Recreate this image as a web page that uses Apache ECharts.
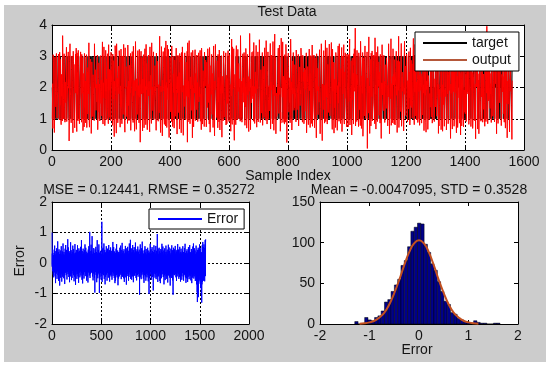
<!DOCTYPE html>
<html><head><meta charset="utf-8">
<script src="https://cdn.jsdelivr.net/npm/echarts@6/dist/echarts.min.js"></script>
<style>
html,body{margin:0;padding:0;background:#fff}
#bg{position:absolute;left:4px;top:5px;width:542px;height:357px;background:#cccccc}
#c{position:absolute;left:0;top:0;width:550px;height:367px}
</style>
</head><body><div id="bg"></div><div id="c"></div>
<script>
// ---- DATA ----
// target class of each test sample (1, 2 or 3), 40 samples per row
const targetRows = [
"2213322113221332112233211322311222133221",
"3311222331122332211332211233211332211223",
"2311322133211223321132231122133221133122",
"1322311223321132213221133223122133112232",
"2113322213311223321123221133211322312213",
"3221132231122332113322113223311223211322",
"1332211322311221332211322311223321132211",
"2233112213322113221133223112232113322132",
"3112233221132231132221331122322113322311",
"2213321122331122332113221322113322311223",
"3122133211223113221332112233122133221132",
"2331122133221132231312233211223312213321",
"1223312213322113312223112233211322113322",
"3211322331221331122233122133211223322113",
"2132213311223311222133211223312112233211",
"3322112231132233112221133211332231122133",
"1221133222331122332113322112233112213322",
"2313221132231122331122332113221331122312",
"3221132212331122213312233211322113322311",
"2112233213322111332223113221322133211223",
"3312221133221132233121322113321223311223",
"1223322113322113122233112232123322113321",
"2311223321132211332231221332112233112213",
"3221133122231132213321122332113223112213",
"1332211223221332211333112223311223322113",
"2211322331122321132221333223112213322113",
"3122133211223113221332112233122133221132",
"1322311223321132213221133223122133112232",
"2213322113221332112233211322311222133221",
"3112233221132231132221331122322113322311",
"2331122133221132231312233211223312213321",
"1332211322311221332211322311223321132211",
"2132213311223311222133211223312112233211",
"3221132231122332113322113223311223211322",
"2311223321132211332231221332112233112213",
"1221133222331122332113322112233112213322",
"3312221133221132233121322113321223311223",
"2233112213322113221133223112232113322132",
"3211322331221331122233122133211223322113"
];
// error (target - output) of each sample, in hundredths, 40 samples per row
const errorHundredths = [
100,-12,31,-5,18,-27,8,44,-15,3,-21,12,-38,6,-9,26,-2,-47,14,-18,33,-7,22,-31,4,-13,57,-24,10,-3,19,-42,28,-11,7,-66,16,-20,39,1,
-8,23,-35,11,-17,48,-4,15,-29,9,-52,21,-6,34,-14,2,-25,71,-10,17,-40,5,27,-19,13,-58,36,-1,-23,9,45,-16,20,-33,6,-12,29,-74,18,-7,
14,-26,3,41,-11,22,-48,7,-19,30,-3,-37,16,55,-22,8,-14,25,-61,11,-6,19,-30,4,38,-17,12,-45,26,-9,2,64,-21,13,-34,17,-5,28,-50,10,
-15,36,-8,20,-43,5,27,-12,-69,16,9,-24,47,-3,18,-32,11,-7,59,-20,23,-13,6,-40,31,-18,2,43,-27,15,-10,-54,24,-4,35,-16,8,-29,21,78,
-11,7,-36,19,-2,51,-24,13,-9,28,-46,4,17,-15,33,-30,10,-63,22,-6,39,-19,12,-28,3,-44,26,-8,68,-14,16,-37,9,-21,42,-4,24,-56,6,-13,
30,-17,5,-49,21,-7,36,-26,14,-3,57,-20,11,-34,-8,25,-12,46,-40,18,-2,-29,13,-60,32,-10,20,-18,7,-45,27,-5,62,-23,9,-31,16,-1,-72,34,
-14,19,-38,8,24,-11,43,-27,4,-16,33,-7,-52,22,-3,15,-36,10,58,-21,6,-13,29,-44,17,-9,37,-25,1,-65,20,-15,48,-6,12,-32,26,-19,-4,40,
-23,11,-47,16,-1,34,-28,9,-14,53,-18,25,-6,-41,13,-22,31,-10,75,-33,8,-16,21,-55,4,-12,39,-27,18,-5,-67,29,-9,14,-24,47,-3,19,-38,7,
23,-13,35,-8,-51,17,-4,27,-20,10,42,-30,6,-17,61,-11,15,-43,24,-2,9,-26,50,-14,3,-35,18,-7,30,-21,13,-58,37,-10,21,-1,-46,16,-28,8,
-9,32,-19,5,-64,26,-12,44,-4,14,-31,20,-8,55,-24,11,-15,36,-41,2,18,-27,102,-6,23,-49,12,-16,28,-3,-36,15,-11,39,-22,7,60,-13,-30,19,
4,-22,41,-15,9,-33,88,-10,25,-5,-44,16,-1,30,-18,12,-57,21,-8,37,-26,6,-13,49,-35,17,-3,27,-20,10,-48,33,-9,19,-97,8,-24,45,-12,2,
15,-30,7,-18,53,-6,22,-39,12,-11,36,-25,4,-63,19,-2,28,-16,75,-43,10,-20,31,-8,-50,24,-14,16,-34,5,43,-12,-27,20,-7,61,-19,11,-38,26,
-98,18,-8,34,-21,6,-45,13,-29,22,-4,40,-16,9,-33,27,-11,-54,15,-2,30,-19,8,-41,21,135,-26,11,-62,17,-7,46,-23,3,-36,25,-13,50,-5,-30,
12,-40,26,-3,19,-15,64,-24,8,-52,31,-10,17,-28,4,43,-19,11,-70,22,-6,35,-14,9,-45,28,-1,-33,16,-9,55,-21,7,-38,24,-12,39,-4,-58,14,
-17,29,-6,47,-32,10,-20,3,36,-13,21,-48,15,-2,-26,59,-9,18,-36,7,25,-16,42,-5,-61,13,-23,30,-11,20,-39,4,16,-29,51,-7,-18,33,-44,9,
22,-5,-37,14,-19,40,-10,27,-55,8,18,-30,6,-14,45,-24,11,69,-3,-42,26,-12,19,-7,-34,52,-17,4,31,-22,13,-49,23,-1,-15,38,-28,8,-66,17,
-4,26,-20,11,-58,33,-8,16,-31,47,-12,5,-40,21,-2,62,-25,9,-17,30,-47,14,-6,24,-35,7,41,-19,12,-73,20,-10,35,-27,3,-51,18,-13,28,-5,
36,-16,8,-44,23,-3,15,-28,50,-11,19,-35,-9,27,-22,4,57,-14,10,-39,29,-7,-53,17,-24,12,-1,43,-30,6,-18,66,-12,21,-45,9,-26,32,-4,14,
-27,11,39,-19,5,-50,24,-9,17,-34,45,-14,2,-62,28,-6,20,-25,13,-41,33,-18,8,-3,56,-29,16,-11,-47,22,-8,37,-21,10,-71,26,-15,4,48,-32,
18,-7,-43,30,-13,6,-26,53,-17,9,-36,22,-2,40,-21,14,-58,25,-10,3,31,-46,12,-19,64,-8,-30,17,-5,44,-24,11,-38,20,-12,76,-16,7,-52,27,
-10,33,-22,5,48,-31,13,-7,-55,24,8,-18,36,-4,15,-44,21,-12,59,-27,3,-35,27,-9,17,-63,10,-20,42,-1,-29,18,-14,52,-6,23,-40,12,-19,34,
-42,9,21,-26,4,-15,67,-33,11,-3,30,-20,-49,16,-8,38,-24,13,-57,6,25,-11,45,-30,2,-16,33,-39,19,-7,54,-23,10,-45,28,-13,-2,37,-28,15,
7,-36,24,-10,44,-19,12,-4,-104,29,-15,5,-32,18,-47,61,-8,20,-25,11,38,-13,-3,27,-53,16,-21,9,48,-34,14,-6,-40,25,-17,70,-11,3,-29,19,
-18,40,-7,14,-36,22,-51,9,-13,31,3,-27,17,-65,26,-2,43,-20,10,-39,18,-9,-31,55,-15,7,-44,24,-5,34,-23,12,-58,19,-10,46,-26,6,-35,21,
28,-12,4,-47,19,-25,37,-6,13,-33,50,-17,8,-40,24,-3,-60,15,-22,32,10,-28,41,-14,-101,21,-9,29,-37,6,17,-50,35,-11,2,-24,63,-18,26,-7,
-21,11,-38,26,-5,45,-15,8,-55,20,-2,33,-27,14,-10,52,-32,6,-18,39,-46,17,-8,29,-24,12,-3,-90,23,-13,36,-42,9,-19,58,-6,15,-35,25,-11,
16,-29,43,-7,22,-48,11,-16,31,-3,-37,19,-12,56,-24,5,-53,27,-9,14,-33,40,-1,-20,12,-45,25,-14,95,-30,8,-18,34,-62,18,-5,47,-26,10,-39,
23,-10,-44,29,-17,7,-35,50,-22,13,-4,38,-28,16,-59,21,-8,33,-13,-66,26,-19,9,-31,46,-3,-25,18,-11,41,-50,14,-6,30,-21,63,-15,5,-37,24,
-14,35,-26,8,-3,54,-20,12,-46,27,-9,19,-33,5,41,-16,-70,23,-7,30,-40,15,-2,48,-27,10,-18,36,-56,21,6,-12,28,-35,13,-24,57,-8,-43,17,
11,-30,20,-6,-52,37,-16,25,-3,44,-38,14,-21,9,-64,28,-12,17,-29,3,60,-23,15,-41,24,-8,-34,12,51,-19,-5,39,-26,7,-48,22,-14,31,-10,-74,
26,-7,16,-43,10,-22,47,-31,5,-15,33,-49,20,-4,-27,58,-11,13,-36,24,-2,42,-20,8,-57,30,-13,19,-104,15,-38,27,-9,50,-18,4,-30,36,-25,12,
-6,45,-28,13,-40,21,-2,32,-17,9,56,-24,14,-35,6,-12,28,-47,18,-9,38,-30,3,-59,25,-16,11,43,-21,7,-44,17,-5,34,-27,62,-13,20,-33,2,
19,-37,8,-21,44,-6,27,-52,14,-11,31,-3,-46,22,-16,9,53,-28,12,-38,4,-19,36,-8,-61,26,-14,18,-31,47,-10,23,-42,6,30,-22,13,-55,35,-4,
-25,15,-9,40,-33,11,-18,55,-5,24,-44,7,29,-20,12,-58,36,-13,3,-29,21,-40,16,-7,49,-23,9,-36,27,-15,63,-11,19,-47,5,-2,33,-28,14,-65,
12,-31,24,-8,-50,18,-14,39,-22,6,45,-17,10,-36,28,-4,-62,20,-11,33,-26,14,-45,7,52,-19,3,-30,23,-9,37,-53,16,-13,26,-40,8,59,-21,11,
-16,29,-43,9,-6,35,-25,15,-57,21,4,-37,18,-10,46,-29,12,-3,-66,25,-14,40,-22,8,-48,31,-7,17,-34,54,-19,6,-41,23,-12,64,-27,10,-2,-51,
20,-9,33,-44,14,-24,48,-5,-36,26,-12,41,-19,8,-59,30,-15,22,-40,11,3,-30,57,-16,12,-48,24,-70,35,-22,9,-55,18,-96,29,-128,16,-70,43,-11,
-26,38,-14,50,-33,-112,21,-45,12,-18,44,-60,27,-8,-41,19,-23,61,-37,10,-55,32,-12,-68,25,-30,48,-15,-82,29,-47,15,-21,-64,36,-105,24,-51,17,-130,
33,-70,22,-41,58,-28,14,-62,40,-16,69,-35,11,-50,45,-24,30,-58,52,-9,27,-44,61,-20,18,-47,49,-13,36,-60,42,-25,12,-38,75,-30,20,-43,66,78
];
// error histogram: bin centres and counts
const histCenters = [-1.264,-1.198,-1.131,-1.064,-0.997,-0.931,-0.864,-0.797,-0.731,-0.664,-0.597,-0.531,-0.464,-0.397,-0.331,-0.264,-0.197,-0.131,-0.064,0.003,0.070,0.137,0.203,0.270,0.337,0.403,0.470,0.537,0.603,0.670,0.737,0.803,0.870,0.937,1.003,1.070,1.137,1.203,1.270,1.337,1.403,1.470,1.537,1.603];
const histCounts  = [3,0,0,8,5,4,8,10,16,27,30,40,48,55,72,78,95,114,119,124,123,98,88,74,66,52,40,28,24,14,12,7,5,3,2,1,4,2,1,1,0,0,1,1];
const histBinWidth = 0.0667;
// fitted normal curve
const fitX = [-1.2,-1.1,-1.0,-0.9,-0.8,-0.7,-0.6,-0.5,-0.4,-0.3,-0.2,-0.1,0,0.1,0.2,0.3,0.4,0.5,0.6,0.7,0.8,0.9,1.0,1.1,1.2];
const fitY = [0.3,0.8,2,4,8,14,24,38,54,72,88,99,103,99,88,72,54,38,24,14,8,4,2,0.8,0.3];

const titleTop = 'Test Data';
const titleErr = 'MSE = 0.12441, RMSE = 0.35272';
const titleHist = 'Mean = -0.0047095, STD = 0.3528';

// ---- build series data ----
const targetDigits = targetRows.join('');
const N = Math.min(targetDigits.length, errorHundredths.length);
const targetData = [], outputData = [], errorData = [];
for (let i = 0; i < N; i++) {
  const t = Number(targetDigits[i]);
  const e = errorHundredths[i] / 100;
  targetData.push([i + 1, t]);
  outputData.push([i + 1, +(t - e).toFixed(2)]);
  errorData.push([i + 1, e]);
}
const histData = histCenters.map((c, i) => [c, histCounts[i]]);
const fitData = fitX.map((x, i) => [x, fitY[i]]);

const FONT = 'Liberation Sans';
const FS = 14;
const TXT = '#141414';
const dotted = {show: true, lineStyle: {color: '#000', type: [2, 2], width: 1}};
function ax(o, mirror) {
  return Object.assign({
    type: 'value',
    axisLine: {show: true, onZero: false, lineStyle: {color: '#000', width: 1}},
    axisTick: {show: true, inside: true, length: 4, lineStyle: {color: '#000'}},
    axisLabel: mirror ? {show: false} : {color: TXT, fontSize: FS, fontFamily: FONT, margin: 5, formatter: v => String(v)},
    splitLine: {show: false}
  }, o);
}
const grids = [
  {left: 52, top: 25, width: 472, height: 125},
  {left: 52, top: 202, width: 197, height: 122},
  {left: 320, top: 202, width: 198, height: 122}
];
const xr = [{min: 0, max: 1600, interval: 200, grid: true}, {min: 0, max: 2000, interval: 500, grid: true}, {min: -2, max: 2, interval: 1, grid: false}];
const yr = [{min: 0, max: 4, interval: 1, grid: true}, {min: -2, max: 2, interval: 1, grid: true}, {min: 0, max: 150, interval: 50, grid: false}];
const xAxis = [], yAxis = [];
for (let g = 0; g < 3; g++) {
  xAxis.push(ax({gridIndex: g, position: 'bottom', min: xr[g].min, max: xr[g].max, interval: xr[g].interval, splitLine: xr[g].grid ? dotted : {show: false}}, false));
  xAxis.push(ax({gridIndex: g, position: 'top', min: xr[g].min, max: xr[g].max, interval: xr[g].interval}, true));
  yAxis.push(ax({gridIndex: g, position: 'left', min: yr[g].min, max: yr[g].max, interval: yr[g].interval, splitLine: yr[g].grid ? dotted : {show: false}}, false));
  yAxis.push(ax({gridIndex: g, position: 'right', min: yr[g].min, max: yr[g].max, interval: yr[g].interval}, true));
}
grids.forEach(g => { g.show = true; g.backgroundColor = '#fff'; g.borderWidth = 0; });

function label(text, x, y, rot) {
  return {type: 'text', x: x, y: y, rotation: rot || 0, z: 100,
    style: {text: text, align: 'center', verticalAlign: 'middle', fontSize: FS, fontFamily: FONT, fill: TXT}};
}

const chart = echarts.init(document.getElementById('c'), null, {renderer: 'canvas'});
chart.setOption({
  animation: false,
  backgroundColor: 'transparent',
  grid: grids,
  xAxis: xAxis,
  yAxis: yAxis,
  legend: [
    {data: ['target', {name: 'output', itemStyle: {color: '#b5583a'}}], left: 415, top: 32, orient: 'vertical',
     backgroundColor: '#fff', borderColor: '#000', borderWidth: 1, borderRadius: 0, padding: [4, 8, 4, 8], itemGap: 3,
     itemWidth: 44, itemHeight: 2, icon: 'rect', textStyle: {fontSize: FS, fontFamily: FONT, color: TXT}},
    {data: ['Error'], left: 149, top: 209, orient: 'vertical',
     backgroundColor: '#fff', borderColor: '#000', borderWidth: 1, borderRadius: 0, padding: [3, 6, 3, 9],
     itemWidth: 44, itemHeight: 2, icon: 'rect', textStyle: {fontSize: FS, fontFamily: FONT, color: TXT}}
  ],
  graphic: {elements: [
    label(titleTop, 287, 12),
    label('Sample Index', 288, 176),
    label(titleErr, 149, 190),
    label(titleHist, 419, 190),
    label('Error', 417, 350),
    label('Error', 20, 261, Math.PI / 2)
  ]},
  series: [
    {name: 'target', type: 'line', xAxisIndex: 0, yAxisIndex: 0, data: targetData, symbol: 'none',
     lineStyle: {color: '#000', width: 1}, itemStyle: {color: '#000'}, clip: true},
    {name: 'output', type: 'line', xAxisIndex: 0, yAxisIndex: 0, data: outputData, symbol: 'none',
     lineStyle: {color: '#ff0000', width: 1}, itemStyle: {color: '#ff0000'}, clip: true},
    {name: 'Error', type: 'line', xAxisIndex: 2, yAxisIndex: 2, data: errorData, symbol: 'none',
     lineStyle: {color: '#0000ff', width: 1}, itemStyle: {color: '#0000ff'}, clip: true},
    {name: 'hist', type: 'custom', xAxisIndex: 4, yAxisIndex: 4, data: histData,
     encode: {x: 0, y: 1},
     renderItem: function (params, api) {
       const c = api.value(0), h = api.value(1);
       const p0 = api.coord([c - histBinWidth / 2, h]);
       const p1 = api.coord([c + histBinWidth / 2, 0]);
       return {type: 'rect', shape: {x: p0[0], y: p0[1], width: p1[0] - p0[0], height: p1[1] - p0[1]},
               style: {fill: '#00008c', stroke: '#000', lineWidth: 0.5}};
     }},
    {name: 'fit', type: 'line', xAxisIndex: 4, yAxisIndex: 4, data: fitData, symbol: 'none', smooth: true,
     lineStyle: {color: '#c4501f', width: 2}, z: 5}
  ]
});
</script>
</body></html>
